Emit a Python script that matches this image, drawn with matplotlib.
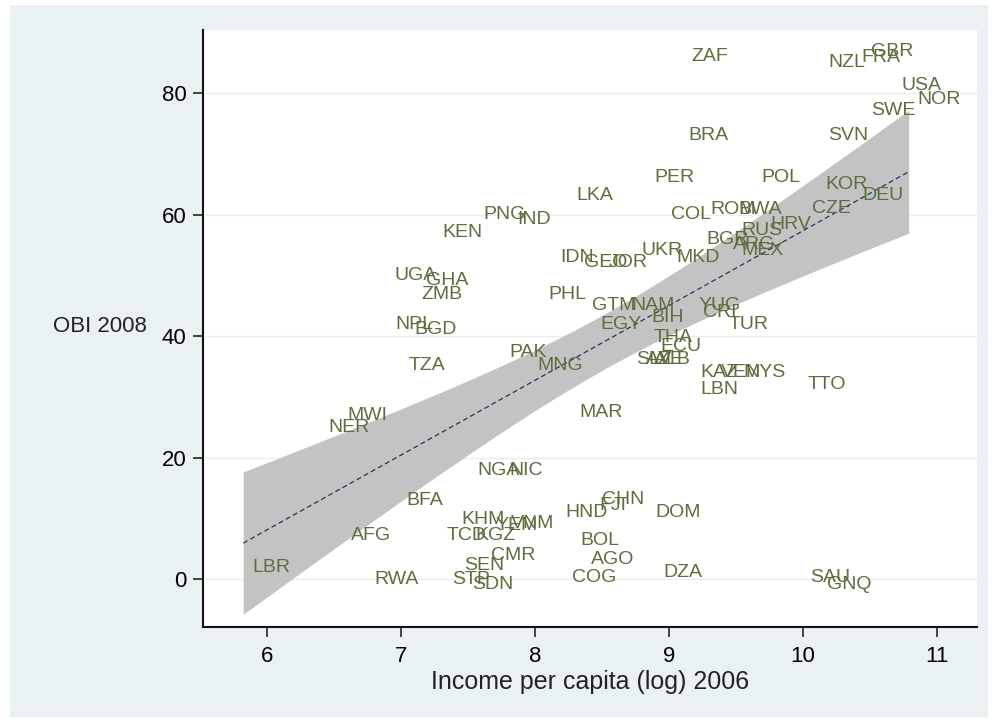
import numpy as np
import matplotlib
matplotlib.use("Agg")
import matplotlib.pyplot as plt
from matplotlib.patches import Rectangle

plt.rcParams['font.family'] = ['Liberation Sans', 'DejaVu Sans']

# country codes, log income 2006, OBI 2008
codes = ['ZAF', 'NZL', 'FRA', 'GBR', 'USA', 'NOR', 'SWE', 'SVN', 'BRA', 'POL',
         'PER', 'KOR', 'DEU', 'CZE', 'LKA', 'PNG', 'IND', 'KEN', 'COL', 'ROM',
         'BWA', 'HRV', 'RUS', 'BGR', 'ARG', 'MEX', 'MKD', 'UKR', 'IDN', 'GEO',
         'JOR', 'YUG', 'CRI', 'TUR', 'GTM', 'NAM', 'PHL', 'EGY', 'BIH', 'THA',
         'ECU', 'SLV', 'AZE', 'ALB', 'KAZ', 'VEN', 'MYS', 'LBN', 'TTO', 'MAR',
         'PAK', 'MNG', 'TZA', 'NPL', 'BGD', 'UGA', 'GHA', 'ZMB', 'MWI', 'NER',
         'NGA', 'NIC', 'BFA', 'KHM', 'YEM', 'VNM', 'AFG', 'TCD', 'KGZ', 'CMR',
         'SEN', 'STP', 'SDN', 'RWA', 'LBR', 'HND', 'FJI', 'CHN', 'DOM', 'BOL',
         'AGO', 'COG', 'DZA', 'SAU', 'GNQ']
income = [9.10, 10.12, 10.37, 10.44, 10.67, 10.79, 10.44, 10.12, 9.08, 9.62,
          8.82, 10.10, 10.38, 10.00, 8.24, 7.55, 7.80, 7.24, 8.95, 9.24,
          9.45, 9.69, 9.47, 9.21, 9.41, 9.47, 8.99, 8.73, 8.12, 8.30,
          8.48, 9.15, 9.19, 9.38, 8.36, 8.65, 8.03, 8.42, 8.80, 8.82,
          8.87, 8.69, 8.76, 8.82, 9.17, 9.32, 9.49, 9.17, 9.97, 8.26,
          7.74, 7.95, 6.99, 6.89, 7.03, 6.88, 7.12, 7.08, 6.53, 6.39,
          7.50, 7.74, 6.97, 7.38, 7.64, 7.75, 6.56, 7.27, 7.49, 7.60,
          7.40, 7.31, 7.46, 6.73, 5.82, 8.16, 8.41, 8.43, 8.83, 8.27,
          8.35, 8.21, 8.89, 9.99, 10.11]
obi = [86.4, 85.4, 86.3, 87.2, 81.7, 79.4, 77.5, 73.4, 73.4, 66.5,
       66.5, 65.3, 63.5, 61.4, 63.5, 60.4, 59.6, 57.4, 60.4, 61.2,
       61.2, 58.8, 57.8, 56.3, 55.5, 54.5, 53.4, 54.5, 53.3, 52.5,
       52.5, 45.4, 44.3, 42.3, 45.4, 45.4, 47.2, 42.3, 43.4, 40.2,
       38.7, 36.5, 36.5, 36.5, 34.4, 34.4, 34.4, 31.6, 32.4, 27.8,
       37.7, 35.6, 35.6, 42.3, 41.5, 50.4, 49.5, 47.2, 27.3, 25.3,
       18.3, 18.3, 13.3, 10.2, 9.2, 9.5, 7.6, 7.6, 7.6, 4.3,
       2.6, 0.3, -0.5, 0.3, 2.3, 11.4, 12.5, 13.5, 11.4, 6.7,
       3.6, 0.7, 1.5, 0.7, -0.5]

xticks = [6, 7, 8, 9, 10, 11]
yticks = [0, 20, 40, 60, 80]

W, H = 994, 723
fig = plt.figure(figsize=(W / 100, H / 100), dpi=100)
fig.patch.set_facecolor('white')
fig.patches.append(Rectangle((10 / W, 6 / H), 978 / W, 712 / H, transform=fig.transFigure,
                             facecolor='#eaf1f3', edgecolor='none', zorder=-10))

ax = fig.add_axes([203 / W, 1 - 627 / H, (977 - 203) / W, (627 - 30) / H])
ax.set_facecolor('white')

# linear fit with 95% CI of the prediction (like lfitci)
x = np.array(income)
y = np.array(obi)
n = len(x)
b, a = np.polyfit(x, y, 1)
resid = y - (a + b * x)
s = np.sqrt(np.sum(resid ** 2) / (n - 2))
sxx = np.sum((x - x.mean()) ** 2)
xs = np.linspace(x.min(), x.max(), 200)
fit = a + b * xs
se = s * np.sqrt(1 / n + (xs - x.mean()) ** 2 / sxx)
t = 1.989
ax.fill_between(xs, fit - t * se, fit + t * se, color='#c3c3c3', linewidth=0, zorder=1)
ax.plot(xs, fit, color='#1a3a5c', lw=0.9, ls=(0, (4, 2.5)), zorder=2)

for c, xi, yi in zip(codes, income, obi):
    ax.annotate(c, (xi, yi), xytext=(6.5, -5), textcoords='offset points',
                ha='left', va='baseline', fontsize=14, color='#5d6e3e', zorder=3)

ax.set_xlim(5.52, 11.30)
ax.set_ylim(-7.9, 90.4)
ax.set_xticks(xticks)
ax.set_yticks(yticks)
ax.tick_params(axis='both', labelsize=16, length=7, width=1.2, color='#222222')
ax.tick_params(axis='x', pad=7)
ax.tick_params(axis='y', pad=5)
ax.grid(axis='y', color='#ececec', lw=1.0, zorder=0)
ax.set_axisbelow(True)
for side in ['top', 'right']:
    ax.spines[side].set_visible(False)
for side in ['left', 'bottom']:
    ax.spines[side].set_linewidth(1.5)
    ax.spines[side].set_color('#111111')

ax.set_xlabel('Income per capita (log) 2006', fontsize=18, color='#222222', labelpad=2)
fig.text(147 / W, 1 - 327 / H, 'OBI 2008', fontsize=16, color='#222222', ha='right', va='center')

fig.savefig('out.png', dpi=100)
